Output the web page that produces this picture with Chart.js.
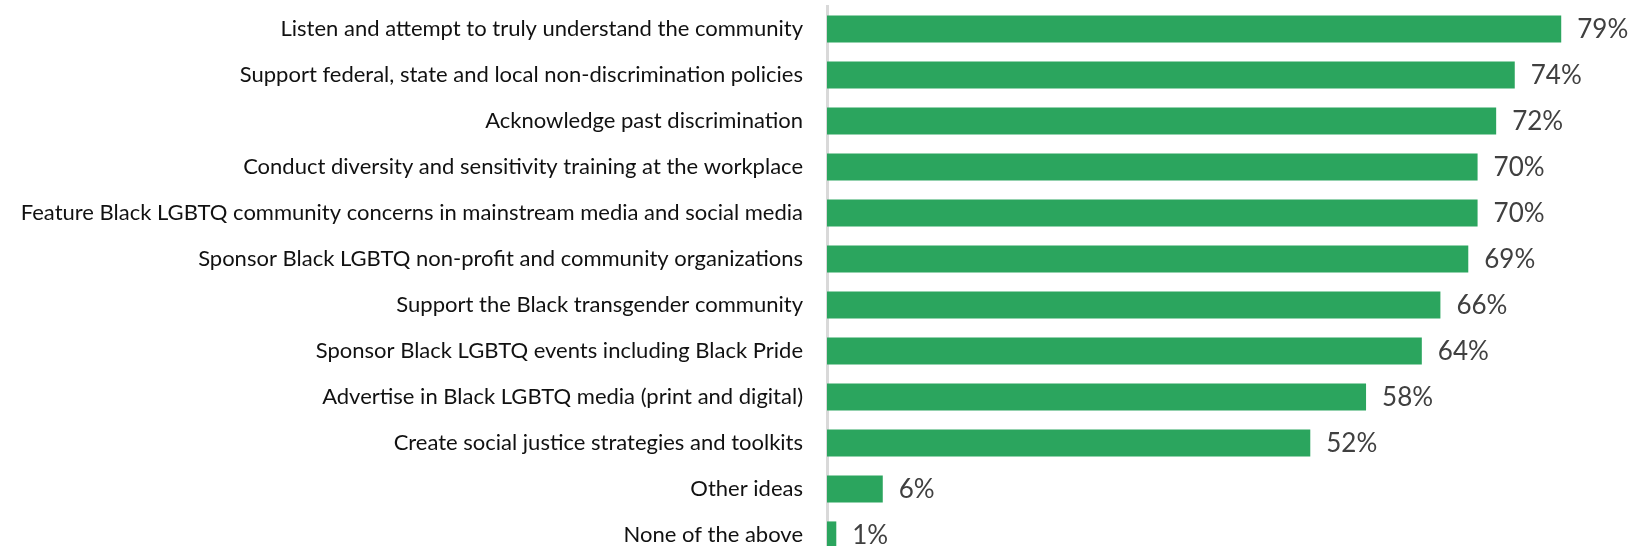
<!DOCTYPE html>
<html><head><meta charset="utf-8">
<script src="https://cdn.jsdelivr.net/npm/chart.js@4/dist/chart.umd.min.js"></script>
<style>
html,body{margin:0;padding:0;background:#fff;overflow:hidden;}
#wrap{width:1630px;height:560px;position:relative;}
</style></head>
<body><div id="wrap"><canvas id="c"></canvas></div>
<script>
const categories = [
  "Listen and attempt to truly understand the community",
  "Support federal, state and local non-discrimination policies",
  "Acknowledge past discrimination",
  "Conduct diversity and sensitivity training at the workplace",
  "Feature Black LGBTQ community concerns in mainstream media and social media",
  "Sponsor Black LGBTQ non-profit and community organizations",
  "Support the Black transgender community",
  "Sponsor Black LGBTQ events including Black Pride",
  "Advertise in Black LGBTQ media (print and digital)",
  "Create social justice strategies and toolkits",
  "Other ideas",
  "None of the above"
];
const values = [79, 74, 72, 70, 70, 69, 66, 64, 58, 52, 6, 1];
const valueLabels = ["79%","74%","72%","70%","70%","69%","66%","64%","58%","52%","6%","1%"];

const labelPlugin = {
  id: 'vlabels',
  afterDatasetsDraw(chart) {
    const ctx = chart.ctx;
    const meta = chart.getDatasetMeta(0);
    ctx.save();
    ctx.font = '26px Lato';
    ctx.fillStyle = '#404040';
    ctx.textBaseline = 'middle';
    ctx.textAlign = 'left';
    meta.data.forEach((bar, i) => {
      ctx.fillText(valueLabels[i], bar.x + 16, bar.y + 1);
    });
    ctx.restore();
  }
};

new Chart(document.getElementById('c'), {
  type: 'bar',
  data: {
    labels: categories,
    datasets: [{
      data: values,
      backgroundColor: '#2BA55E',
      borderWidth: 0,
      barPercentage: 0.59,
      categoryPercentage: 1
    }]
  },
  options: {
    indexAxis: 'y',
    responsive: true,
    maintainAspectRatio: false,
    animation: false,
    layout: { padding: { top: 6, bottom: 2, left: 0, right: 0 } },
    plugins: { legend: { display: false }, tooltip: { enabled: false } },
    scales: {
      x: { display: false, min: 0, max: 86.4 },
      y: {
        afterFit(scale) { scale.width = 827; scale.paddingTop = 0; scale.paddingBottom = 0; },
        grid: { display: true, drawOnChartArea: false, drawTicks: false },
        border: { display: true, color: '#d9d9d9', width: 3 },
        ticks: { color: '#111', font: { family: 'Lato', size: 22 }, padding: 24, autoSkip: false }
      }
    }
  },
  plugins: [labelPlugin]
});
</script>
</body></html>
